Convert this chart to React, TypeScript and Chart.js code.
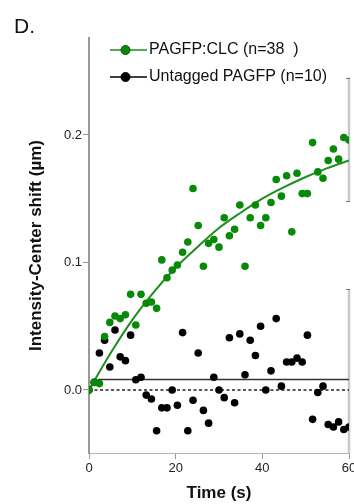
import React, { useEffect, useRef } from "react";
import { Chart, registerables } from "chart.js";

Chart.register(...registerables);

// ---- data ----
const times = [
  0, 1.2, 2.4, 3.6, 4.8, 6, 7.2, 8.4, 9.6, 10.8, 12, 13.2, 14.4, 15.6, 16.8, 18, 19.2,
  20.4, 21.6, 22.8, 24, 25.2, 26.4, 27.6, 28.8, 30, 31.2, 32.4, 33.6, 34.8, 36, 37.2,
  38.4, 39.6, 40.8, 42, 43.2, 44.4, 45.6, 46.8, 48, 49.2, 50.4, 51.6, 52.8, 54, 55.2,
  56.4, 57.6, 58.8, 60,
];

const clcValues = [
  0, 0.006, 0.005, 0.042, 0.053, 0.058, 0.056, 0.059, 0.075, 0.051, 0.075, 0.068, 0.069,
  0.064, 0.102, 0.088, 0.094, 0.098, 0.108, 0.116, 0.158, 0.129, 0.097, 0.115, 0.118,
  0.112, 0.135, 0.121, 0.126, 0.145, 0.097, 0.135, 0.145, 0.129, 0.135, 0.147, 0.165,
  0.152, 0.168, 0.124, 0.17, 0.154, 0.154, 0.194, 0.171, 0.166, 0.18, 0.189, 0.181,
  0.198, 0.196,
];

const untaggedValues = [
  0, 0.006, 0.029, 0.039, 0.018, 0.047, 0.026, 0.023, 0.043, 0.008, 0.01, -0.004, -0.007,
  -0.032, -0.014, -0.014, 0.0, -0.012, 0.045, -0.032, -0.008, 0.029, -0.016, -0.026, 0.01,
  0.0, -0.006, 0.041, -0.01, 0.044, 0.012, 0.039, 0.027, 0.05, 0.0, 0.015, 0.056, 0.003,
  0.022, 0.022, 0.025, 0.022, 0.043, -0.023, -0.002, 0.003, -0.027, -0.029, -0.025,
  -0.031, -0.029,
];

const clcFitTimes = [0, 5, 10, 15, 20, 25, 30, 35, 40, 45, 50, 55, 60];
const clcFitValues = [0, 0.029, 0.055, 0.077, 0.096, 0.112, 0.127, 0.139, 0.15, 0.159, 0.167, 0.174, 0.18];

const untaggedFitTimes = [0, 1.2, 2.4, 60];
const untaggedFitValues = [0, 0.0065, 0.0082, 0.0082];

const zeroLineTimes = [0, 60];
const zeroLineValues = [0, 0];

// gray bars on the right edge (value ranges)
const sideBarTops = [0.245, 0.079];
const sideBarBottoms = [0.148, -0.0494];

const xTicks = [0, 20, 40, 60];
const yTicks = [0, 0.1, 0.2];
const xRange = [0, 60];
const yRange = [-0.0494, 0.276];

const seriesLabels = ["PAGFP:CLC (n=38  )", "Untagged PAGFP (n=10)"];
const panelLabel = "D.";
const xTitle = "Time (s)";
const yTitle = "Intensity-Center shift (\u00b5m)";

const GREEN = "#078a07";
const GREEN_LINE = "#1c8f1c";
const BLACK = "#000000";

const toPoints = (xs: number[], ys: number[]) => xs.map((x, i) => ({ x, y: ys[i] }));

const decorPlugin = {
  id: "decor",
  beforeDatasetsDraw(chart: any) {
    const { ctx, scales } = chart;
    const xs = scales.x;
    const ys = scales.y;
    const px = xs.getPixelForValue(xRange[1]);
    ctx.save();
    ctx.strokeStyle = "#c8c8c8";
    ctx.lineWidth = 2.5;
    sideBarTops.forEach((top, i) => {
      const y1 = ys.getPixelForValue(top);
      const y2 = ys.getPixelForValue(sideBarBottoms[i]);
      ctx.beginPath();
      ctx.moveTo(px, y1);
      ctx.lineTo(px, y2);
      ctx.stroke();
    });
    ctx.strokeStyle = "#777";
    ctx.lineWidth = 1;
    sideBarTops.forEach((top, i) => {
      const y1 = Math.round(ys.getPixelForValue(top)) + 0.5;
      ctx.beginPath();
      ctx.moveTo(px - 3, y1);
      ctx.lineTo(px + 1, y1);
      ctx.stroke();
      if (i === 0) {
        const y2 = Math.round(ys.getPixelForValue(sideBarBottoms[i])) + 0.5;
        ctx.beginPath();
        ctx.moveTo(px - 3, y2);
        ctx.lineTo(px + 1, y2);
        ctx.stroke();
      }
    });
    ctx.restore();
  },
  afterDraw(chart: any) {
    const { ctx } = chart;
    ctx.save();
    // panel label
    ctx.fillStyle = "#111";
    ctx.font = '21px "Liberation Sans", Arial, sans-serif';
    ctx.textBaseline = "alphabetic";
    ctx.textAlign = "left";
    ctx.fillText(panelLabel, 14, 33);

    // legend
    const rows = [50, 77];
    const colors = [GREEN, BLACK];
    const lineColors = [GREEN_LINE, BLACK];
    seriesLabels.forEach((label, i) => {
      const y = rows[i];
      ctx.strokeStyle = lineColors[i];
      ctx.lineWidth = 1.5;
      ctx.beginPath();
      ctx.moveTo(110, y);
      ctx.lineTo(147, y);
      ctx.stroke();
      ctx.beginPath();
      ctx.arc(125.5, y, 4.5, 0, Math.PI * 2);
      ctx.fillStyle = colors[i];
      ctx.fill();
      ctx.lineWidth = 1;
      ctx.strokeStyle = i === 0 ? "#035403" : "#000";
      ctx.stroke();
      ctx.fillStyle = "#111";
      ctx.font = '16px "Liberation Sans", Arial, sans-serif';
      ctx.textBaseline = "middle";
      ctx.fillText(label, 149, y);
    });
    ctx.restore();
  },
};

export default function App() {
  const canvasRef = useRef<HTMLCanvasElement | null>(null);

  useEffect(() => {
    if (!canvasRef.current) return;
    const chart = new Chart(canvasRef.current, {
      type: "scatter",
      data: {
        datasets: [
          {
            label: seriesLabels[0],
            data: toPoints(times, clcValues),
            backgroundColor: GREEN,
            borderWidth: 0,
            pointRadius: 3.8,
            showLine: false,
            order: 1,
          },
          {
            label: seriesLabels[1],
            data: toPoints(times, untaggedValues),
            backgroundColor: BLACK,
            borderWidth: 0,
            pointRadius: 3.8,
            showLine: false,
            order: 2,
          },
          {
            label: "fit CLC",
            data: toPoints(clcFitTimes, clcFitValues),
            showLine: true,
            borderColor: GREEN_LINE,
            borderWidth: 2,
            pointRadius: 0,
            cubicInterpolationMode: "monotone",
            fill: false,
            order: 3,
          },
          {
            label: "fit untagged",
            data: toPoints(untaggedFitTimes, untaggedFitValues),
            showLine: true,
            borderColor: "#333",
            borderWidth: 1.6,
            pointRadius: 0,
            fill: false,
            order: 4,
          },
          {
            label: "zero",
            data: toPoints(zeroLineTimes, zeroLineValues),
            showLine: true,
            borderColor: "#222",
            borderWidth: 1.5,
            borderDash: [3, 2.5],
            pointRadius: 0,
            fill: false,
            order: 5,
          },
        ],
      },
      options: {
        responsive: false,
        animation: false,
        events: [],
        layout: { padding: { left: 0, top: 38, right: 31, bottom: 0 } },
        plugins: {
          legend: { display: false },
          tooltip: { enabled: false },
          title: { display: false },
        },
        scales: {
          x: {
            type: "linear",
            min: xRange[0],
            max: xRange[1],
            afterBuildTicks: (scale: any) => {
              scale.ticks = xTicks.map((v) => ({ value: v }));
            },
            afterFit: (scale: any) => {
              scale.height = 51;
            },
            ticks: {
              color: "#222",
              font: { family: '"Liberation Sans", Arial, sans-serif', size: 13 },
              padding: 2,
              maxRotation: 0,
              callback: (v: any) => String(v),
            },
            grid: {
              drawOnChartArea: false,
              drawTicks: true,
              tickLength: 6,
              color: "#999",
            },
            border: { display: true, color: "#b5b5b5", width: 1 },
            title: {
              display: true,
              text: xTitle,
              color: "#111",
              font: { family: '"Liberation Sans", Arial, sans-serif', size: 17, weight: "bold" },
              padding: { top: 0, bottom: 0 },
            },
          },
          y: {
            type: "linear",
            min: yRange[0],
            max: yRange[1],
            afterBuildTicks: (scale: any) => {
              scale.ticks = yTicks.map((v) => ({ value: v }));
            },
            afterFit: (scale: any) => {
              scale.width = 89;
            },
            ticks: {
              color: "#222",
              font: { family: '"Liberation Sans", Arial, sans-serif', size: 13 },
              padding: 1,
              callback: (v: any) => Number(v).toFixed(1),
            },
            grid: {
              drawOnChartArea: false,
              drawTicks: true,
              tickLength: 6,
              color: "#999",
            },
            border: { display: true, color: "#9a9a9a", width: 2 },
            title: {
              display: true,
              text: yTitle,
              color: "#111",
              font: { family: '"Liberation Sans", Arial, sans-serif', size: 17, weight: "bold" },
              padding: { top: 26, bottom: 0 },
            },
          },
        },
      },
      plugins: [decorPlugin],
    } as any);
    return () => chart.destroy();
  }, []);

  return (
    <div
      style={{
        position: "fixed",
        left: 0,
        top: 0,
        width: 380,
        height: 504,
        background: "#fff",
        overflow: "hidden",
      }}
    >
      <canvas ref={canvasRef} width={380} height={504} style={{ width: 380, height: 504, display: "block" }} />
    </div>
  );
}
